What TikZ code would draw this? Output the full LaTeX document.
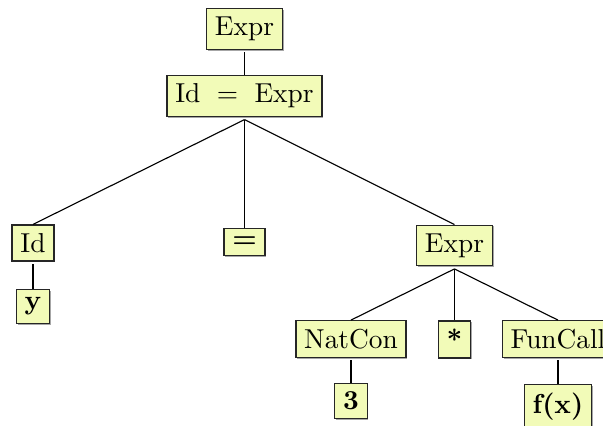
\documentclass[tikz,border=0pt]{standalone}
\usetikzlibrary{shadows}
\definecolor{nodefill}{RGB}{242,251,184}
\tikzset{
  tn/.style={draw=black!85, fill=nodefill, line width=0.5pt,
    font=\fontsize{10.95}{13.6}\selectfont, inner sep=3.33pt,
    drop shadow={shadow xshift=0.5pt, shadow yshift=-0.5pt, fill=black, opacity=0.35}},
  tt/.style={tn, font=\fontsize{10.95}{13.6}\selectfont\bfseries},
  edge/.style={draw=black, line width=0.45pt}
}
\begin{document}
\begin{tikzpicture}[x=0.4pt, y=-0.4pt]
\useasboundingbox (0,0) rectangle (603,426);
% root
\node[tn] (root) at (244.5,29) {Expr};
\node[tn] (assign) at (244.5,96) {Id\hspace{0.6em}=\hspace{0.6em}Expr};
% children of the assignment
\node[tn] (id) at (33,243) {Id};
\node[tt] (y) at (33,306.5) {y};
\node[tt] (eq) at (244.5,242) {=};
\node[tn] (expr) at (454.5,245.5) {Expr};
% children of the right-hand expression
\node[tn] (natcon) at (351,339) {NatCon};
\node[tt] (three) at (351,401) {3};
\node[tt] (star) at (454.5,339.5) {*};
\node[tn] (funcall) at (558,339) {FunCall};
\node[tt] (fx) at (558,406.5) {f(x)};
% connectors
\draw[edge] ([yshift=-1pt]root.south) -- (assign.north);
\draw[edge] ([yshift=-1pt]assign.south) -- (id.north);
\draw[edge] ([yshift=-1pt]assign.south) -- (eq.north);
\draw[edge] ([yshift=-1pt]assign.south) -- (expr.north);
\draw[edge] ([yshift=-1pt]id.south) -- (y.north);
\draw[edge] ([yshift=-1pt]expr.south) -- (natcon.north);
\draw[edge] ([yshift=-1pt]expr.south) -- (star.north);
\draw[edge] ([yshift=-1pt]expr.south) -- (funcall.north);
\draw[edge] ([yshift=-1pt]natcon.south) -- (three.north);
\draw[edge] ([yshift=-1pt]funcall.south) -- (fx.north);
\end{tikzpicture}
\end{document}
